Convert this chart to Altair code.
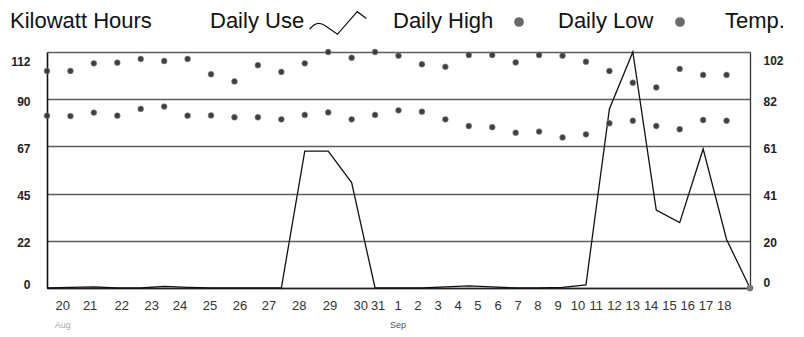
import altair as alt
import pandas as pd

# ---------------- data ----------------
day_index = list(range(31))
daily_use = [0, 0.3, 0.5, 0, 0, 0.8, 0.3, 0, 0, 0, 0, 65, 65, 50, 0, 0, 0, 0.5, 1, 0.5,
             0, 0, 0.3, 1.5, 85, 112, 37, 31, 66, 23, 0]
daily_high = [93.8, 93.8, 97.1, 97.4, 99.0, 98.1, 99.0, 92.4, 89.3, 96.3, 93.4, 97.1, 102, 99.5, 102,
              100.4, 96.7, 95.6, 100.7, 100.7, 97.5, 100.7, 100.4, 97.8, 93.8, 88.7, 86.7, 94.7, 92.1, 92.1]
daily_low = [74.5, 74.3, 75.8, 74.5, 77.4, 78.4, 74.5, 74.6, 73.8, 73.8, 72.9, 74.8, 75.9, 72.9, 74.8,
             76.8, 76.2, 72.9, 70.0, 69.5, 67.1, 67.6, 65.1, 66.4, 71.2, 72.3, 70.0, 68.6, 72.6, 72.3]

day_labels = ["20", "21", "22", "23", "24", "25", "26", "27", "28", "29", "30", "31",
              "1", "2", "3", "4", "5", "6", "7", "8", "9", "10", "11", "12", "13", "14", "15", "16", "17", "18"]
day_label_pos = [0.67, 1.84, 3.19, 4.47, 5.68, 6.96, 8.24, 9.47, 10.76, 12.08, 13.39, 14.13,
                 14.98, 15.83, 16.69, 17.54, 18.39, 19.25, 20.10, 20.95, 21.81, 22.66, 23.44, 24.22,
                 25.00, 25.78, 26.56, 27.34, 28.12, 28.90]
months = ["Aug", "Sep"]
month_label_idx = [0, 12]

kwh_ticks = [0, 22.4, 44.8, 67.2, 89.6, 112]
temp_ticks = [0, 20.4, 40.8, 61.2, 81.6, 102]

# ---------------- tables ----------------
use_df = pd.DataFrame({"idx": day_index, "kwh": daily_use})
temp_df = pd.DataFrame({
    "idx": list(range(len(daily_high))) * 2,
    "temp": daily_high + daily_low,
    "series": ["Daily High"] * len(daily_high) + ["Daily Low"] * len(daily_low),
})
tick_df = pd.DataFrame({"idx": day_label_pos, "label": day_labels})
month_df = pd.DataFrame({"month": months, "idx": [day_label_pos[i] for i in month_label_idx]})
one = pd.DataFrame({"a": [0]})

FONT = "Liberation Sans"

x_scale = alt.Scale(domain=[0, 30], nice=False, zero=False)
x_axis = alt.Axis(values=[], title=None, grid=False, ticks=False, tickSize=0, labels=False,
                  domainColor="#222", domainWidth=1.3)
x_enc = alt.X("idx:Q", scale=x_scale, axis=x_axis)

left_axis = alt.Axis(values=kwh_ticks, labelExpr="format(round(datum.value), 'd')", title=None,
                     grid=True, gridColor="#5c5c5c", gridWidth=1.3, ticks=False, tickSize=0,
                     labelPadding=17, labelFontSize=12, labelFontWeight="bold", labelColor="#222",
                     domainColor="#111", domainWidth=1.6, labelFont=FONT,
                     labelOffset={"condition": [{"test": "datum.value >= 112", "value": 9},
                                                {"test": "datum.value <= 0", "value": -4}],
                                  "value": 2})
right_axis = alt.Axis(values=temp_ticks, labelExpr="format(round(datum.value), 'd')", title=None,
                      orient="right", grid=False, ticks=False, tickSize=0, labelPadding=13,
                      labelFontSize=12, labelFontWeight="bold", labelColor="#222",
                      domainColor="#333", domainWidth=1.3, labelFont=FONT,
                      labelOffset={"condition": [{"test": "datum.value >= 102", "value": 8},
                                                 {"test": "datum.value <= 0", "value": -6}],
                                   "value": 2})

use_line = alt.Chart(use_df).mark_line(color="#111", strokeWidth=1.3).encode(
    x=x_enc,
    y=alt.Y("kwh:Q", scale=alt.Scale(domain=[0, 112], nice=False), axis=left_axis),
)
end_dot = alt.Chart(use_df).transform_filter("datum.idx == 30").mark_circle(
    size=45, color="#777", opacity=1).encode(
    x=x_enc, y=alt.Y("kwh:Q", scale=alt.Scale(domain=[0, 112], nice=False), axis=left_axis))

temp_dots = alt.Chart(temp_df).mark_circle(size=34, color="#363636", opacity=0.95,
                                           stroke="#888", strokeWidth=0.6).encode(
    x=x_enc,
    y=alt.Y("temp:Q", scale=alt.Scale(domain=[0, 102], nice=False), axis=right_axis),
)

# day tick labels, placed through the x scale
tick_text = alt.Chart(tick_df).mark_text(fontSize=13, font=FONT, baseline="middle",
                                         color="#333").encode(
    x=x_enc, y=alt.value(254), text="label:N")

month_text = alt.Chart(month_df).mark_text(fontSize=9, font=FONT, baseline="middle").encode(
    x=x_enc,
    y=alt.value(273),
    text="month:N",
    color=alt.condition("datum.month == 'Aug'", alt.value("#aaaaaa"), alt.value("#555555")),
)

def legend_text(txt, px):
    return alt.Chart(one).mark_text(fontSize=22, font=FONT, align="left", baseline="alphabetic",
                                    color="#111").encode(
        x=alt.value(px), y=alt.value(-24), text=alt.value(txt))

icon_path = "M-1,0.22 Q-0.75,-0.12 -0.45,0.1 L-0.02,0.4 L0.68,-0.4 L1,-0.16"
use_icon = alt.Chart(one).mark_point(shape=icon_path, size=3200, filled=False, color="#111",
                                     strokeWidth=1.2, opacity=1).encode(
    x=alt.value(291), y=alt.value(-29))
dot_high = alt.Chart(one).mark_circle(size=95, color="#6a6a6a", opacity=1).encode(
    x=alt.value(472), y=alt.value(-30))
dot_low = alt.Chart(one).mark_circle(size=95, color="#6a6a6a", opacity=1).encode(
    x=alt.value(633), y=alt.value(-30))

legend = alt.layer(
    legend_text("Kilowatt Hours", -37),
    legend_text("Daily Use", 163),
    legend_text("Daily High", 346),
    legend_text("Daily Low", 511),
    legend_text("Temp.", 678),
    use_icon, dot_high, dot_low,
)

chart = alt.layer(
    alt.layer(use_line, end_dot),
    temp_dots,
    tick_text,
    month_text,
    legend,
).resolve_scale(y="independent").properties(
    width=703, height=236,
    autosize=alt.AutoSizeParams(type="none"),
    padding={"left": 39, "top": 44, "right": 46, "bottom": 45},
    background="white",
).configure_view(stroke="#444", strokeWidth=1.2).configure(font=FONT)

chart.save("out.html", embed_options={"renderer": "svg", "actions": False})
